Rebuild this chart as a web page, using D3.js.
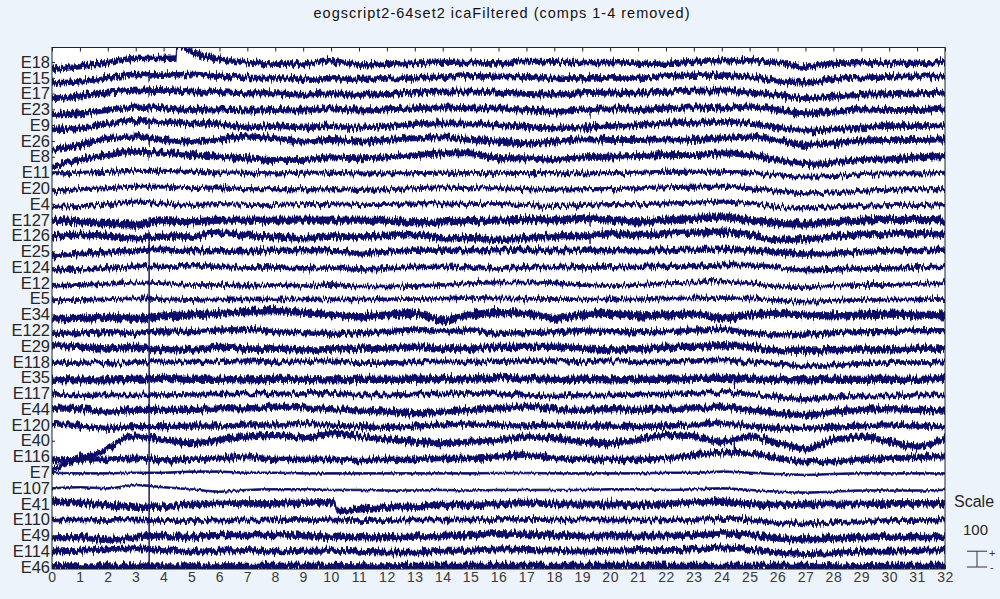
<!DOCTYPE html>
<html>
<head>
<meta charset="utf-8">
<script src="https://cdn.jsdelivr.net/npm/d3@7"></script>
<style>
  html, body { margin: 0; padding: 0; background: #edf3fb; }
  svg { display: block; font-family: Arial, "Liberation Sans", sans-serif; }
</style>
</head>
<body>
<div id="area1"></div>
<script>
// channel names, top to bottom
var chanNames = ["E18","E15","E17","E23","E9","E26","E8","E11","E20","E4","E127","E126","E25","E124","E12","E5",
  "E34","E122","E29","E118","E35","E117","E44","E120","E40","E116","E7","E107","E41","E110","E49","E114","E46"];

// time axis (seconds) and sample times of the read-off baselines
var xTicks = [0,1,2,3,4,5,6,7,8,9,10,11,12,13,14,15,16,17,18,19,20,21,22,23,24,25,26,27,28,29,30,31,32];
var sampleTimes = [0,1,2,3,4,5,6,7,8,9,10,11,12,13,14,15,16,17,18,19,20,21,22,23,24,25,26,27,28,29,30,31,32];

// slow baseline of each channel (uV), one value per second
var E18  = [-46,-29,-4,23,23,65,19,-4,-13,-13,8, -19,-13,-8,0,-4,-6,4,0,-4,-4,-8, -8,4,8,8,-4,-32,-8,-4,-8,-8,2];
var E15  = [-32,-25,2,21,17,21,10,2,0,-10,-6, -10,-6,0,4,13,8,6,-4,0,0,-4, 10,17,17,6,-19,-32,-10,2,6,10,6];
var E17  = [-29,-19,6,19,23,13,10,2,2,-8,2, -8,-2,6,13,13,6,-2,-8,2,6,6, 13,19,19,6,-8,-29,-19,-8,-4,2,6];
var E23  = [-36,-25,-4,17,6,-4,0,-8,-4,-8,6, -8,0,6,13,6,6,-4,-15,0,6,-4, 6,13,6,17,-4,-25,-15,0,-4,-4,6];
var E9   = [-27,-21,10,27,21,10,6,-15,-6,-15,-6, -15,-6,6,10,10,0,-10,-21,-15,-6,0, 10,15,21,10,-15,-36,-27,-15,-6,-6,0];
var E26  = [-57,-25,17,27,6,-4,10,27,17,-4,6, -4,6,17,23,6,-4,-15,-4,10,6,6, 10,6,17,27,6,-25,-15,2,6,6,10];
var E8   = [-63,-21,10,31,25,10,0,-10,-21,-21,-4, -10,-4,10,21,21,-10,-10,-21,-4,0,4, 10,10,21,10,-21,-46,-38,-21,-17,-4,4];
var E11  = [-6,-2,4,10,10,4,0,-2,-6,-2,-2, -6,-6,-4,-2,-4,-2,-4,-4,-6,-4,-2, 4,4,4,-2,-17,-27,-23,-10,-6,-6,-2];
var E20  = [-21,-6,0,10,10,0,6,-6,-6,-6,-6, -10,-6,0,6,0,0,-6,-10,-6,-6,0, 6,10,10,0,-15,-32,-27,-15,-10,-6,-6];
var E4   = [-17,-13,-2,15,4,-6,0,-6,-6,0,0, -6,-6,4,4,0,0,-6,-13,-6,0,0, 4,8,15,4,-17,-27,-21,-13,-6,-6,0];
var E127 = [-2,-13,-23,-34,-6,-13,-2,-2,-2,-2,-2, -2,-2,-19,-13,-6,-2,2,-2,8,-2,-13, -2,8,19,-2,-23,-27,-13,-2,2,2,-2];
var E126 = [-6,4,-2,-17,-6,-6,19,4,-10,-17,-6, -6,-2,4,-17,-17,-27,-17,-6,-2,15,4, 15,19,25,4,-27,-23,-6,4,10,15,4];
var E25  = [-29,-13,-8,4,13,4,4,-2,8,4,4, -13,-2,8,8,4,4,13,4,8,4,4, 8,13,13,8,-8,-17,-13,-2,4,4,8];
var E124 = [-19,-15,-8,2,2,6,2,-2,-2,-8,-2, -15,-8,2,2,-2,-8,-2,2,-2,-2,2, 2,6,13,13,-2,-19,-15,-8,-8,-2,2];
var E12  = [-19,-13,-6,2,-2,-13,-13,-19,-13,-19,-13, -23,-23,-19,-13,-2,2,2,-2,-13,-19,-13, -2,2,8,-2,-23,-27,-19,-13,-13,-6,-2];
var E5   = [-10,-8,-4,2,-4,-8,-4,-4,-4,-4,-4, -4,-4,-2,0,4,2,0,-2,-4,-4,-4, 2,2,4,2,-10,-19,-13,-8,-6,-4,-2];
var E34  = [-30,-24,-18,-24,-9,-3,7,18,24,12,-3, -14,-3,7,-35,-3,12,7,-24,-3,7,-9, -3,3,-24,-3,7,-3,-9,-3,3,-3,-9];
var E122 = [-20,-16,-9,-20,-3,-9,1,5,-9,-16,-20, -16,-9,5,-9,1,-20,-16,-9,-3,-9,-9, -9,1,5,-16,-30,-24,-16,-9,-9,-3,-3];
var E29  = [5,-5,-16,-5,-26,-22,-5,-16,-16,-22,-22, -16,-16,-5,-16,-16,-5,-5,-5,-16,-22,-22, -5,-5,5,-5,-26,-30,-26,-22,-22,-16,-16];
var E118 = [-5,-5,-9,-5,0,0,0,7,0,0,7, -5,-5,0,0,0,0,7,7,0,7,0, 0,7,12,0,-14,-26,-20,-9,-5,-5,0];
var E35  = [-11,-15,-15,-11,-5,-11,-11,-15,-11,-11,-15, -11,-11,-11,-5,-11,1,-5,-11,-11,-15,-11, -11,-5,-5,-11,-11,-15,-11,-11,-11,-11,-5];
var E117 = [-4,-11,-11,-11,-6,-6,-4,-4,-4,0,0, -11,-11,-4,-4,0,-4,-11,-17,-11,-11,-4, -4,0,4,-4,-25,-38,-25,-17,-17,-11,-11];
var E44  = [5,0,-16,-5,-5,-5,5,5,16,11,0, -9,-16,-26,-16,-5,5,16,0,-5,0,-5, 0,5,16,-5,-26,-37,-16,-5,0,-5,-9];
var E120 = [10,-7,-21,-11,-11,-7,-7,0,0,10,0, -11,-15,-7,0,6,0,-7,0,-7,-7,-11, -7,0,10,-7,-21,-21,-15,-7,0,-7,-11];
var E40  = [-185,-108,-50,26,5,-16,5,26,36,15,47, 26,9,-6,-16,-6,5,26,15,-6,-16,5, 36,26,-6,26,-16,-48,5,26,-6,-37,15];
var E116 = [-20,-22,-18,-12,-22,-18,-12,0,-18,-18,-18, -26,-18,-18,-12,-12,-1,9,-12,-18,-18,-18, -12,9,24,20,-12,-33,-33,-18,-12,-5,0];
var E7   = [-3,-7,-7,-3,-3,4,4,-3,-3,-7,-7, -7,-7,-7,-7,-7,-5,-5,-7,-7,-7,-7, -3,-3,4,-3,-11,-17,-11,-7,-7,-7,-7];
var E107 = [-2,5,-2,19,5,-8,-23,-12,-8,-8,-12, -12,-16,-16,-12,-16,-12,-12,-12,-12,-8,-8, -12,-8,-2,-12,-23,-29,-23,-16,-16,-16,-12];
var E41  = [14,7,-7,-18,-18,-1,-1,3,3,7,10, -35,-22,-18,-7,-7,-1,7,-1,-1,-1,-7, -1,7,14,-1,-7,-1,-1,-1,3,3,3];
var E110 = [-2,-2,-6,-2,-6,-6,-2,-2,-2,2,-2, -6,-6,-2,-2,-2,2,2,-2,-2,-2,-2, -2,2,8,-2,-19,-27,-19,-13,-6,-6,-2];
var E49  = [-12,-12,-29,-12,-4,-12,2,2,2,-4,-8, -12,-12,-8,-4,2,13,9,2,-4,-4,-4, -4,2,13,2,-19,-25,-19,-12,-8,-12,-8];
var E114 = [-3,3,12,18,7,-3,3,7,-3,3,3, -3,-9,-9,3,3,12,7,3,-3,3,7, 7,12,24,12,-9,-18,-13,-3,-3,3,7];
var E46  = [0,0,0,0,0,0,0,5,5,5,5, 0,0,5,5,5,5,5,5,5,5,5, 5,5,5,5,5,5,0,0,5,5,5];

var traces = [E18,E15,E17,E23,E9,E26,E8,E11,E20,E4,E127,E126,E25,E124,E12,E5,
  E34,E122,E29,E118,E35,E117,E44,E120,E40,E116,E7,E107,E41,E110,E49,E114,E46];

// half width of the dense core of each channel's noisy band (uV)
var noiseHalf = [15,15,16,16,15,16,16,10,10,10,20,18,15,12,9,9,
  20,14,18,12,20,12,17,14,17,15,5,5,18,12,18,16,20];

// extra read-off points between the seconds: [channel, time, uV]
var extraPoints = [
  ["E18", 4.44, 25], ["E18", 4.48, 110], ["E18", 4.8, 85],
  ["E40", 0.5, -145], ["E40", 1.7, -76], ["E40", 2.55, 12],
  ["E41", 10.1, 8], ["E41", 10.25, -45]
];

// spike artefacts: [time, from channel, uV, to channel, uV]
var spikes = [
  [3.48, "E126", 30, "E46", -20],
  [3.48, "E15", 30, "E15", -30], [3.48, "E17", 25, "E17", -25], [3.48, "E23", 25, "E23", -25],
  [3.48, "E9", 25, "E9", -25], [3.48, "E26", 25, "E26", -25], [3.48, "E8", 20, "E8", -20],
  [3.48, "E127", 20, "E127", -30],
  [19.28, "E23", 0, "E23", -60], [19.28, "E9", 0, "E9", -45],
  [19.28, "E127", 15, "E127", -45], [19.28, "E126", 10, "E126", -60],
  [24.45, "E35", 0, "E35", -60], [24.45, "E40", 10, "E40", -60]
];

var spacing = 100;   // uV between channels, also the scale bar
var titleText = "eogscript2-64set2 icaFiltered (comps 1-4 removed)";

var W = 1000, H = 599;
var box = { left: 52, right: 945, top: 47.5, bottom: 569 };
var traceColor = "#0b0b68";

// vertical jitter filter: id, strength
function addJagFilter(defs, id, strength) {
  var f = defs.append("filter")
    .attr("id", id)
    .attr("filterUnits", "userSpaceOnUse")
    .attr("x", box.left - 5).attr("y", box.top - 20)
    .attr("width", box.right - box.left + 10).attr("height", box.bottom - box.top + 40)
    .attr("color-interpolation-filters", "sRGB");
  f.append("feTurbulence")
    .attr("type", "fractalNoise")
    .attr("baseFrequency", "0.55 0.07")
    .attr("numOctaves", 2)
    .attr("seed", 7)
    .attr("result", "n");
  f.append("feColorMatrix")
    .attr("in", "n")
    .attr("type", "matrix")
    .attr("values", "0 0 0 0 0.5  0 1 0 0 0  0 0 0 0 0  0 0 0 0 1")
    .attr("result", "m");
  f.append("feDisplacementMap")
    .attr("in", "SourceGraphic")
    .attr("in2", "m")
    .attr("scale", strength)
    .attr("xChannelSelector", "R")
    .attr("yChannelSelector", "G");
}

window.onload = function() {

  var svg = d3.select("#area1")
    .append("svg")
    .attr("width", W)
    .attr("height", H);

  svg.append("rect")
    .attr("width", W).attr("height", H)
    .attr("fill", "#edf3fb");

  var nCh = chanNames.length;
  var offset = function(i) { return (nCh - 1 - i) * spacing; };

  var x = d3.scaleLinear().domain([0, 32]).range([box.left, box.right]);
  var y = d3.scaleLinear().domain([-13, 3292]).range([box.bottom, box.top]);

  var defs = svg.append("defs");
  defs.append("clipPath").attr("id", "plotclip")
    .append("rect")
    .attr("x", box.left).attr("y", box.top)
    .attr("width", box.right - box.left).attr("height", box.bottom - box.top);

  addJagFilter(defs, "jag", 10);
  addJagFilter(defs, "jagthin", 3.5);

  // white axes area
  svg.append("rect")
    .attr("x", box.left).attr("y", box.top)
    .attr("width", box.right - box.left).attr("height", box.bottom - box.top)
    .attr("fill", "#ffffff");

  var clipped = svg.append("g").attr("clip-path", "url(#plotclip)");
  var plotThick = clipped.append("g").attr("filter", "url(#jag)");
  var plotThin = clipped.append("g").attr("filter", "url(#jagthin)");

  // build the points of each channel
  var chans = chanNames.map(function(name, i) {
    var pts = sampleTimes.map(function(t, k) { return { t: t, v: traces[i][k] }; });
    extraPoints.forEach(function(e) {
      if (e[0] === name) pts.push({ t: e[1], v: e[2] });
    });
    pts.sort(function(a, b) { return a.t - b.t; });
    return { name: name, i: i, pts: pts, hw: noiseHalf[i] };
  });

  var area = d3.area()
    .curve(d3.curveMonotoneX)
    .x(function(d) { return x(d.t); });

  function drawTraces(g, list) {
    g.selectAll(".trace")
      .data(list)
      .enter().append("path")
      .attr("class", "trace")
      .attr("fill", traceColor)
      .attr("stroke", traceColor)
      .attr("stroke-width", 0.8)
      .attr("d", function(c) {
        return area
          .y0(function(d) { return y(offset(c.i) + d.v - c.hw); })
          .y1(function(d) { return y(offset(c.i) + d.v + c.hw); })(c.pts);
      });
  }
  drawTraces(plotThick, chans.filter(function(c) { return c.hw > 6; }));
  drawTraces(plotThin, chans.filter(function(c) { return c.hw <= 6; }));

  // spikes
  plotThick.selectAll(".spike")
    .data(spikes)
    .enter().append("line")
    .attr("class", "spike")
    .attr("x1", function(d) { return x(d[0]); })
    .attr("x2", function(d) { return x(d[0]); })
    .attr("y1", function(d) { return y(offset(chanNames.indexOf(d[1])) + d[2]); })
    .attr("y2", function(d) { return y(offset(chanNames.indexOf(d[3])) + d[4]); })
    .attr("stroke", traceColor)
    .attr("stroke-width", 1.4);

  // axes
  var topAxis = svg.append("g")
    .attr("transform", "translate(0," + box.top + ")")
    .call(d3.axisTop(x).tickValues(xTicks).tickSize(-4).tickFormat(""));

  var bottomAxis = svg.append("g")
    .attr("transform", "translate(0," + box.bottom + ")")
    .call(d3.axisBottom(x).tickValues(xTicks).tickSize(-4).tickPadding(3).tickFormat(d3.format("d")));

  var leftAxis = svg.append("g")
    .attr("transform", "translate(" + box.left + ",0)")
    .call(d3.axisLeft(y)
      .tickValues(chanNames.map(function(n, i) { return offset(i); }))
      .tickSize(-3).tickPadding(2)
      .tickFormat(function(v) { return chanNames[nCh - 1 - Math.round(v / spacing)]; }));

  [topAxis, bottomAxis, leftAxis].forEach(function(g) {
    g.select(".domain").remove();
    g.selectAll(".tick line").attr("stroke", "#222");
  });

  bottomAxis.selectAll("text")
    .attr("font-size", 14)
    .attr("font-family", "Arial, 'Liberation Sans', sans-serif")
    .attr("letter-spacing", 0.5)
    .attr("fill", "#3a3a3a");

  leftAxis.selectAll("text")
    .attr("font-size", 16.5)
    .attr("font-family", "Arial, 'Liberation Sans', sans-serif")
    .attr("fill", "#262626");

  // frame
  svg.append("rect")
    .attr("x", box.left).attr("y", box.top)
    .attr("width", box.right - box.left).attr("height", box.bottom - box.top)
    .attr("fill", "none")
    .attr("stroke", "#222")
    .attr("stroke-width", 1);

  // title
  svg.append("text")
    .attr("x", 502)
    .attr("y", 18)
    .attr("text-anchor", "middle")
    .attr("font-size", 14.5)
    .attr("letter-spacing", 1.0)
    .attr("fill", "#111")
    .text(titleText);

  // scale legend
  var legend = svg.append("g");
  legend.append("text")
    .attr("x", 954).attr("y", 507)
    .attr("font-size", 16)
    .attr("fill", "#262626")
    .text("Scale");
  legend.append("text")
    .attr("x", 963).attr("y", 535)
    .attr("font-size", 15)
    .attr("fill", "#262626")
    .text(spacing);

  var barBottom = 567;
  var barTop = barBottom - (y(0) - y(spacing));
  var barX = 977;
  legend.append("line")
    .attr("x1", barX).attr("x2", barX)
    .attr("y1", barTop).attr("y2", barBottom)
    .attr("stroke", "#333").attr("stroke-width", 1);
  [barTop, barBottom].forEach(function(yy) {
    legend.append("line")
      .attr("x1", barX - 10).attr("x2", barX + 10)
      .attr("y1", yy).attr("y2", yy)
      .attr("stroke", "#333").attr("stroke-width", 1);
  });
  legend.append("text")
    .attr("x", 989).attr("y", barTop + 6)
    .attr("font-size", 11)
    .attr("fill", "#333")
    .text("+");
  legend.append("text")
    .attr("x", 990).attr("y", barBottom + 4)
    .attr("font-size", 11)
    .attr("fill", "#333")
    .text("-");
};
</script>
</body>
</html>
